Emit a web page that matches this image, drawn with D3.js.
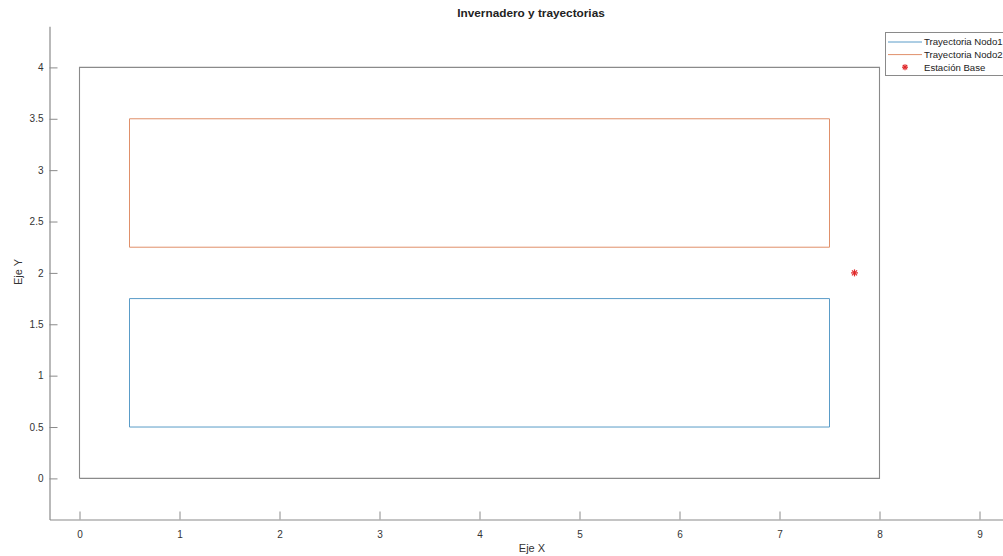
<!DOCTYPE html>
<html><head><meta charset="utf-8">
<script src="https://cdn.jsdelivr.net/npm/d3@7"></script>
<style>
body{margin:0;background:#fff;}
svg{display:block;font-family:"Liberation Sans",Arial,Helvetica,sans-serif;}
</style></head>
<body>
<svg id="c" width="1003" height="556"></svg>
<script>
const xTicks=[0,1,2,3,4,5,6,7,8,9];
const yTicks=[0,0.5,1,1.5,2,2.5,3,3.5,4];
const greenhouseX=[0,8,8,0,0];
const greenhouseY=[0,0,4,4,0];
const nodo1X=[0.5,7.5,7.5,0.5,0.5];
const nodo1Y=[0.5,0.5,1.75,1.75,0.5];
const nodo2X=[0.5,7.5,7.5,0.5,0.5];
const nodo2Y=[2.25,2.25,3.5,3.5,2.25];
const baseX=[7.75];
const baseY=[2];
const legendLabels=["Trayectoria Nodo1","Trayectoria Nodo2","Estación Base"];

const svg=d3.select("#c");
const x=d3.scaleLinear().domain([-0.3,9.3]).range([49.5,1009.5]);
const y=d3.scaleLinear().domain([-0.4,4.4]).range([519.5,26.3]);
const axisCol="#8a8a8a", textCol="#333";

// axes
const gx=svg.append("g").attr("transform",`translate(0,${y(-0.4)})`)
  .call(d3.axisBottom(x).tickValues(xTicks).tickFormat(d3.format("d")).tickSizeInner(-8).tickSizeOuter(0));
const gy=svg.append("g").attr("transform",`translate(${x(-0.3)},0)`)
  .call(d3.axisLeft(y).tickValues(yTicks).tickFormat(d=>String(d)).tickSizeInner(-8).tickSizeOuter(0));
[gx,gy].forEach(g=>{
  g.select(".domain").attr("stroke",axisCol).attr("stroke-width",1.2);
  g.selectAll(".tick line").attr("stroke",axisCol);
  g.selectAll(".tick text").attr("fill",textCol).attr("font-size",10).attr("font-family","Liberation Sans,Arial,sans-serif");
});
gx.selectAll(".tick text").attr("dy","1.5em");
gy.selectAll(".tick text").attr("x",-6);

const line=(xs,ys)=>d3.line().x(i=>x(xs[i])).y(i=>y(ys[i]))(d3.range(xs.length));
svg.append("path").attr("d",line(greenhouseX,greenhouseY)).attr("fill","none").attr("stroke","#8a8a8a").attr("stroke-width",1.1);
svg.append("path").attr("d",line(nodo1X,nodo1Y)).attr("fill","none").attr("stroke","#5a9cc8").attr("stroke-width",1);
svg.append("path").attr("d",line(nodo2X,nodo2Y)).attr("fill","none").attr("stroke","#e0906a").attr("stroke-width",1);

function asterisk(g,cx,cy,r){
  const s=g.append("g").attr("transform",`translate(${cx},${cy})`).attr("stroke","#e0282a").attr("stroke-width",1.2);
  s.append("line").attr("x1",-r).attr("x2",r).attr("y1",0).attr("y2",0);
  s.append("line").attr("x1",0).attr("x2",0).attr("y1",-r).attr("y2",r);
  const d=r*0.72;
  s.append("line").attr("x1",-d).attr("x2",d).attr("y1",-d).attr("y2",d);
  s.append("line").attr("x1",-d).attr("x2",d).attr("y1",d).attr("y2",-d);
}
baseX.forEach((bx,i)=>asterisk(svg,x(bx),y(baseY[i]),3.5));

// title and labels
svg.append("text").attr("x",531).attr("y",17).attr("text-anchor","middle")
  .attr("font-size",11.8).attr("font-weight","bold").attr("fill","#222").text("Invernadero y trayectorias");
svg.append("text").attr("x",532).attr("y",552).attr("text-anchor","middle")
  .attr("font-size",11).attr("fill",textCol).text("Eje X");
svg.append("text").attr("transform","translate(22,272) rotate(-90)").attr("text-anchor","middle")
  .attr("font-size",11).attr("fill",textCol).text("Eje Y");

// legend
const lg=svg.append("g");
lg.append("rect").attr("x",885.5).attr("y",32.5).attr("width",140).attr("height",43)
  .attr("fill","#fff").attr("stroke","#8a8a8a").attr("stroke-width",1);
const lcols=["#5a9cc8","#e0906a"];
legendLabels.forEach((t,i)=>{
  const cy=42+i*12.6;
  if(i<2){
    lg.append("line").attr("x1",888).attr("x2",922).attr("y1",cy).attr("y2",cy).attr("stroke",lcols[i]).attr("stroke-width",1);
  } else {
    asterisk(lg,905,cy,3);
  }
  lg.append("text").attr("x",924).attr("y",cy+3.4).attr("font-size",9.6).attr("fill","#222").text(t);
});
</script>
</body></html>
